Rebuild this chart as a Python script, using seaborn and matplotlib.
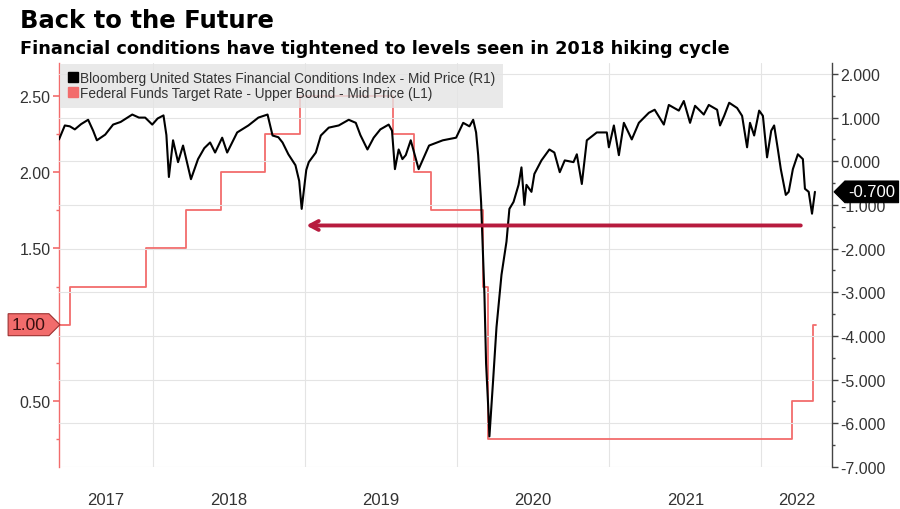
import matplotlib
matplotlib.use("Agg")
import matplotlib.pyplot as plt
import matplotlib.dates as mdates
import matplotlib.ticker as mticker
from matplotlib.lines import Line2D
from matplotlib.path import Path
import pandas as pd
import seaborn as sns

# Bloomberg US Financial Conditions Index (right axis)
fci_dates = [
    "2017-05-20", "2017-06-03", "2017-06-15", "2017-06-27", "2017-07-12", "2017-07-29",
    "2017-08-10", "2017-08-19", "2017-09-08", "2017-09-27", "2017-10-15", "2017-11-12",
    "2017-11-28", "2017-12-13", "2017-12-30", "2018-01-12", "2018-01-26", "2018-02-02",
    "2018-02-08", "2018-02-18", "2018-03-02", "2018-03-14", "2018-04-02", "2018-04-19",
    "2018-05-04", "2018-05-18", "2018-05-30", "2018-06-16", "2018-06-28", "2018-07-22",
    "2018-08-18", "2018-09-11", "2018-10-03", "2018-10-11", "2018-10-15", "2018-10-29",
    "2018-11-08", "2018-11-22", "2018-12-09", "2018-12-18", "2018-12-24", "2019-01-04",
    "2019-01-10", "2019-01-27", "2019-02-08", "2019-02-27", "2019-03-23", "2019-04-16",
    "2019-05-03", "2019-05-14", "2019-05-31", "2019-06-15", "2019-07-01", "2019-07-21",
    "2019-07-29", "2019-08-05", "2019-08-14", "2019-08-23", "2019-08-31", "2019-09-12",
    "2019-10-01", "2019-10-26", "2019-11-28", "2019-12-30", "2020-01-16", "2020-01-31",
    "2020-02-09", "2020-02-16", "2020-02-21", "2020-02-28", "2020-03-04", "2020-03-07",
    "2020-03-11", "2020-03-16", "2020-03-19", "2020-03-28", "2020-04-05", "2020-04-17",
    "2020-04-29", "2020-05-06", "2020-05-16", "2020-05-28", "2020-06-04", "2020-06-11",
    "2020-06-16", "2020-06-28", "2020-07-05", "2020-07-22", "2020-08-10", "2020-08-22",
    "2020-09-04", "2020-09-16", "2020-10-07", "2020-10-15", "2020-10-27", "2020-11-08",
    "2020-12-02", "2020-12-26", "2020-12-31", "2021-01-12", "2021-01-24", "2021-02-05",
    "2021-02-24", "2021-03-13", "2021-04-06", "2021-04-20", "2021-05-12", "2021-05-24",
    "2021-06-17", "2021-06-29", "2021-07-14", "2021-07-26", "2021-08-16", "2021-08-28",
    "2021-09-17", "2021-09-24", "2021-10-04", "2021-10-16", "2021-11-04", "2021-11-16",
    "2021-11-28", "2021-12-05", "2021-12-15", "2021-12-27", "2022-01-05", "2022-01-15",
    "2022-01-25", "2022-02-01", "2022-02-10", "2022-02-17", "2022-03-01", "2022-03-08",
    "2022-03-18", "2022-03-30", "2022-04-11", "2022-04-16", "2022-04-25", "2022-05-03",
    "2022-05-10",
]
fci_values = [
    0.50, 0.82, 0.80, 0.73, 0.85, 0.95,
    0.70, 0.48, 0.61, 0.84, 0.90, 1.07,
    1.00, 1.00, 0.84, 0.98, 1.05, 0.60,
    -0.36, 0.48, -0.02, 0.36, -0.41, 0.05,
    0.30, 0.43, 0.20, 0.54, 0.20, 0.66,
    0.82, 1.00, 1.07, 0.75, 0.59, 0.55,
    0.43, 0.16, -0.09, -0.45, -1.09, -0.20,
    -0.02, 0.20, 0.59, 0.77, 0.82, 0.95,
    0.88, 0.60, 0.27, 0.54, 0.73, 0.84,
    0.70, -0.18, 0.27, 0.05, 0.14, 0.48,
    -0.18, 0.36, 0.48, 0.54, 0.88, 0.80,
    0.95, 0.66, 0.14, -0.93, -2.29, -3.04,
    -4.63, -5.60, -6.30, -5.00, -3.80, -2.60,
    -1.84, -1.09, -0.93, -0.54, -0.14, -1.00,
    -0.54, -0.70, -0.29, 0.02, 0.27, 0.20,
    -0.25, 0.02, -0.02, 0.16, -0.52, 0.48,
    0.66, 0.66, 0.32, 0.82, 0.14, 0.88,
    0.50, 0.88, 1.11, 1.18, 0.84, 1.29,
    1.16, 1.38, 0.88, 1.27, 1.07, 1.29,
    1.18, 0.82, 1.04, 1.34, 1.22, 1.04,
    0.32, 0.88, 0.59, 1.16, 1.04, 0.09,
    0.70, 0.82, 0.27, -0.18, -0.77, -0.70,
    -0.18, 0.16, 0.05, -0.63, -0.70, -1.20,
    -0.70,
]

# Federal Funds Target Rate - upper bound (left axis)
fed_dates = [
    "2017-05-20", "2017-06-15", "2017-12-14", "2018-03-22", "2018-06-14",
    "2018-09-27", "2018-12-20", "2019-08-01", "2019-09-19", "2019-10-31",
    "2020-03-04", "2020-03-16", "2022-03-17", "2022-05-05", "2022-05-12",
]
fed_values = [
    1.00, 1.25, 1.50, 1.75, 2.00,
    2.25, 2.50, 2.25, 2.00, 1.75,
    1.25, 0.25, 0.50, 1.00, 1.00,
]

year_labels = ["2017", "2018", "2019", "2020", "2021", "2022"]
x_start, x_end = "2017-05-20", "2022-06-20"
arrow_from, arrow_to, arrow_level = "2022-04-06", "2019-01-04", -1.47
last_fci = -0.700
last_fed = 1.00

fci_label = "Bloomberg United States Financial Conditions Index - Mid Price (R1)"
fed_label = "Federal Funds Target Rate - Upper Bound - Mid Price (L1)"

fed_color = "#f26c6c"
arrow_color = "#b71b3e"
text_color = "#333333"


def tag_right(x0, y0, width, height, mutation_size):
    # rectangle with a point on the right side
    pad = 0.2 * mutation_size
    x0, y0, width, height = x0 - pad, y0 - pad, width + 2 * pad, height + 2 * pad
    tip = height / 2
    return Path([(x0, y0), (x0 + width, y0), (x0 + width + tip, y0 + height / 2),
                 (x0 + width, y0 + height), (x0, y0 + height), (x0, y0)], closed=True)


def tag_left(x0, y0, width, height, mutation_size):
    # rectangle with a point on the left side
    pad = 0.2 * mutation_size
    x0, y0, width, height = x0 - pad, y0 - pad, width + 2 * pad, height + 2 * pad
    tip = height / 2
    return Path([(x0, y0), (x0 + width, y0), (x0 + width, y0 + height),
                 (x0, y0 + height), (x0 - tip, y0 + height / 2), (x0, y0)], closed=True)


sns.set_style("white")
plt.rcParams["font.family"] = ["Liberation Sans", "DejaVu Sans"]

fig = plt.figure(figsize=(9, 5.1), dpi=100)
ax = fig.add_axes([59 / 900, 1 - 468 / 510, (832 - 59) / 900, (468 - 64) / 510])
ax2 = ax.twinx()

sns.lineplot(x=pd.to_datetime(fed_dates), y=fed_values, ax=ax, color=fed_color,
             lw=1.3, drawstyle="steps-post", zorder=3)
sns.lineplot(x=pd.to_datetime(fci_dates), y=fci_values, ax=ax2, color="black",
             lw=1.5, zorder=3)

lo = mdates.date2num(pd.Timestamp(x_start))
hi = mdates.date2num(pd.Timestamp(x_end))
ax.set_xlim(lo, hi)
ax.set_ylim(0.067, 2.716)
ax2.set_ylim(-7.0, 2.25)
ax.set_xlabel("")
ax.set_ylabel("")
ax2.set_ylabel("")

# year gridlines on Jan 1, labels centred on the visible part of each year
year_starts = [mdates.date2num(pd.Timestamp(f"{y}-01-01")) for y in range(2018, 2023)]
edges = [lo] + year_starts + [hi]
centers = [(a + b) / 2 for a, b in zip(edges[:-1], edges[1:])]
ax.xaxis.set_major_locator(mticker.FixedLocator(year_starts))
ax.xaxis.set_major_formatter(mticker.NullFormatter())
ax.xaxis.set_minor_locator(mticker.FixedLocator(centers))
ax.xaxis.set_minor_formatter(mticker.FixedFormatter(year_labels))
ax.tick_params(axis="x", which="both", length=0)
ax.tick_params(axis="x", which="minor", pad=18, labelsize=12, labelcolor=text_color)
ax.grid(axis="x", which="major", color="#e4e4e4", lw=0.8)

# left axis (fed funds); the last-value tag stands in for its own tick label
ax.yaxis.set_major_locator(mticker.MultipleLocator(0.5))
ax.yaxis.set_minor_locator(mticker.MultipleLocator(0.25))
ax.yaxis.set_major_formatter(mticker.FuncFormatter(
    lambda v, p: "" if abs(v - last_fed) < 1e-9 else f"{v:.2f}"))
ax.tick_params(axis="y", which="major", length=4, width=1.2, color=fed_color,
               labelsize=11.5, labelcolor=text_color, pad=2, left=True)
ax.tick_params(axis="y", which="minor", length=2, width=1, color=fed_color, left=True)

# right axis (FCI)
ax2.yaxis.set_major_locator(mticker.MultipleLocator(1))
ax2.yaxis.set_minor_locator(mticker.MultipleLocator(0.5))
ax2.yaxis.set_major_formatter(mticker.FuncFormatter(lambda v, p: f"{v:.3f}"))
ax2.tick_params(axis="y", which="major", length=4, width=1, color="#444444",
                labelsize=11.5, labelcolor=text_color, pad=2, right=True)
ax2.tick_params(axis="y", which="minor", length=2, width=1, color="#444444", right=True)
ax2.grid(axis="y", which="major", color="#e4e4e4", lw=0.8)

for s in ["top", "right", "bottom"]:
    ax.spines[s].set_visible(False)
ax.spines["left"].set_color(fed_color)
ax.spines["left"].set_linewidth(1)
for s in ["top", "left", "bottom"]:
    ax2.spines[s].set_visible(False)
ax2.spines["right"].set_color("#444444")
ax2.spines["right"].set_linewidth(1)

# arrow back to the 2018 levels
ax2.annotate("", xy=(mdates.date2num(pd.Timestamp(arrow_to)), arrow_level),
             xytext=(mdates.date2num(pd.Timestamp(arrow_from)), arrow_level),
             arrowprops=dict(arrowstyle="->,head_length=0.6,head_width=0.32",
                             color=arrow_color, lw=2.8, shrinkA=0, shrinkB=0),
             zorder=4)

# last value tags
ax.text(-0.0175, last_fed, f"{last_fed:.2f}", transform=ax.get_yaxis_transform(),
        ha="right", va="center", fontsize=12.5, color="#3a1010", zorder=6, clip_on=False,
        bbox=dict(boxstyle=tag_right, fc=fed_color, ec="#9b3030", lw=0.8))
ax2.text(1.021, last_fci, f"{last_fci:.3f}", transform=ax2.get_yaxis_transform(),
         ha="left", va="center", fontsize=12, color="white", zorder=6, clip_on=False,
         bbox=dict(boxstyle=tag_left, fc="black", ec="black", lw=0.8))

handles = [
    Line2D([], [], marker="s", color="black", ls="none", markersize=7),
    Line2D([], [], marker="s", color=fed_color, ls="none", markersize=7),
]
leg = ax2.legend(handles, [fci_label, fed_label], loc="upper left", bbox_to_anchor=(0, 1),
                 frameon=True, facecolor="#e4e4e4", edgecolor="none", framealpha=0.8,
                 fontsize=9.8, handletextpad=0.15, borderpad=0.55, labelspacing=0.08,
                 handlelength=0.8, borderaxespad=0.05, fancybox=False)
leg.set_zorder(1)
for t in leg.get_texts():
    t.set_color(text_color)

fig.text(20 / 900, 1 - 28 / 510, "Back to the Future", fontsize=17.5,
         fontweight="bold", family="DejaVu Sans", color="black", va="baseline")
fig.text(20 / 900, 1 - 54 / 510, "Financial conditions have tightened to levels seen in 2018 hiking cycle",
         fontsize=12.8, fontweight="bold", family="DejaVu Sans", color="black", va="baseline")

fig.savefig("out.png", dpi=100, facecolor="white")
